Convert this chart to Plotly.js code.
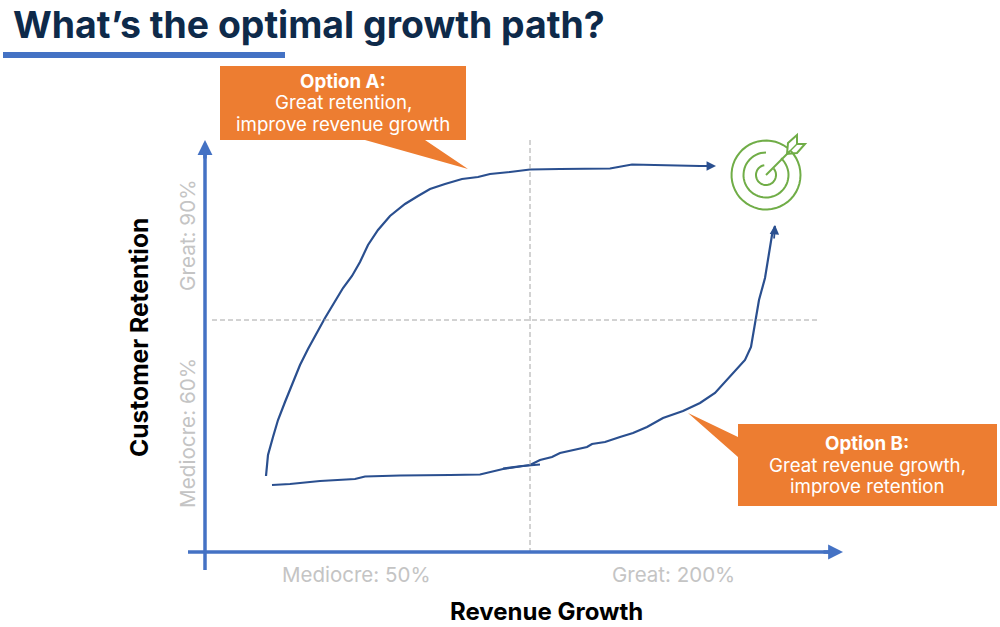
<!DOCTYPE html>
<html><head><meta charset="utf-8">
<script src="https://cdn.plot.ly/plotly-3.0.1.min.js"></script>
<style>html,body{margin:0;padding:0;background:#fff}#c{width:1000px;height:627px}</style>
</head><body><div id="c"></div>
<script>
const optionAx=[266,268,273,278,285,292,300,308,316,325,334,343,352,360,368,378,390,405,418,430,445,462,478,490,510,530,560,610,632,660,700];
const optionAy=[476,455,437,420,402,385,365,349,334,318,303,288,276,262,245,230,216,204,196,189,184,179,177,174,172,169.5,169,168.5,164.5,165,166];
const optionBx=[272,290,320,355,365,400,450,480,503,530,540,552,560,587,592,605,620,633,647,663,683,700,715,730,745,751,755,759,765,769,772,775];
const optionBy=[485,484,481,479,476.5,475.5,475,474.5,469,465,460,457,453,447,444,442,437,433,427,418,411,403,393,376,360,347,325,300,278,255,235,226];
const strokeX=[503,522,540], strokeY=[468.5,466,464.5];
const xTickLabels=["Mediocre: 50%","Great: 200%"];
const yTickLabels=["Mediocre: 60%","Great: 90%"];
const titleText="What’s the optimal growth path?";
const FONT="Inter, 'Open Sans', sans-serif";
const BLUE="#4472C4", ORANGE="#ED7D31", NAVY="#2A4F8F", GREY="#C4C4C4", GREEN="#70AD47", DASH="#A6A6A6";

function arc(cx,cy,r,a0,a1){
  let d="";
  for(let i=0;i<=48;i++){
    const a=(a0+(a1-a0)*i/48)*Math.PI/180;
    d+=(i?"L":"M")+(cx+r*Math.cos(a)).toFixed(1)+","+(cy+r*Math.sin(a)).toFixed(1);
  }
  return d;
}
const tcx=766,tcy=175;
const line=(x0,y0,x1,y1,color,width,dash)=>({type:"line",x0,y0,x1,y1,xref:"x",yref:"y",line:{color,width,dash:dash||"solid"}});
const path=(d,fill,lc,w)=>({type:"path",path:d,xref:"x",yref:"y",fillcolor:fill||"rgba(0,0,0,0)",line:{color:lc||"rgba(0,0,0,0)",width:w||0}});
const shapes=[
  line(3,55,285,55,BLUE,6),
  line(530,140,530,553,DASH,1,"5px,3px"),
  line(212,320,820,320,DASH,1,"5px,3px"),
  line(205,570,205,150,BLUE,3.5),
  line(188,552,834,552,BLUE,3.5),
  path("M220,66L466,66L466,140L425,140L468,169L365,140L220,140Z",ORANGE),
  path("M738,424L997,424L997,506L738,506L738,457L688,413L738,437Z",ORANGE),
  path(arc(tcx,tcy,34.5,-44,-38+360-14),null,GREEN,2),
  path(arc(tcx,tcy,22.5,-48,-48+318),null,GREEN,2),
  path(arc(tcx,tcy,10,-40,-40+300),null,GREEN,2),
  line(766,175,790,151,GREEN,2),
  path("M787,154L788,143L797,135L797,144L805,144L797,153L787,154Z",null,GREEN,2),
  line(788,153,797,144,GREEN,1.5)
];
const arrow=(x,y,ax,ay,color,w,s)=>({x,y,ax,ay,xref:"x",yref:"y",axref:"x",ayref:"y",text:"",showarrow:true,arrowhead:2,arrowsize:s,arrowwidth:w,arrowcolor:color});
const txt=(x,y,text,size,color,opt)=>Object.assign({x,y,xref:"x",yref:"y",text,showarrow:false,font:{family:FONT,size,color},xanchor:"center",yanchor:"middle"},opt||{});
const annotations=[
  arrow(205,140,205,160,BLUE,3.5,0.85),
  arrow(843,552,822,552,BLUE,3.5,0.85),
  arrow(716,166,698,166,NAVY,1.8,1.05),
  arrow(775,225,774,240,NAVY,1.8,1.05),
  txt(11,24,"<b>"+titleText+"</b>",37.4,"#0E2A4A",{xanchor:"left"}),
  txt(343,81,"<b>Option A:</b>",18.7,"#fff"),
  txt(343,102,"Great retention,",18.7,"#fff"),
  txt(343,124,"improve revenue growth",18.7,"#fff"),
  txt(867,443,"<b>Option B:</b>",18.7,"#fff"),
  txt(867,465,"Great revenue growth,",18.7,"#fff"),
  txt(867,486,"improve retention",18.7,"#fff"),
  txt(356,574,xTickLabels[0],20.5,GREY),
  txt(673,574,xTickLabels[1],20.5,GREY),
  txt(187,433,yTickLabels[0],20.7,GREY,{textangle:-90}),
  txt(187,235,yTickLabels[1],20.7,GREY,{textangle:-90}),
  txt(546,611,"<b>Revenue Growth</b>",24,"#000"),
  txt(139,338,"<b>Customer Retention</b>",24.6,"#000",{textangle:-90})
];
const trace=(x,y)=>({x,y,mode:"lines",type:"scatter",hoverinfo:"skip",line:{color:NAVY,width:2.2,shape:"linear"}});
Plotly.newPlot("c",[trace(optionAx,optionAy),trace(optionBx,optionBy),trace(strokeX,strokeY)],{
  width:1000,height:627,margin:{l:0,r:0,t:0,b:0},showlegend:false,
  paper_bgcolor:"#fff",plot_bgcolor:"#fff",
  xaxis:{range:[0,1000],visible:false,fixedrange:true},
  yaxis:{range:[627,0],visible:false,fixedrange:true},
  shapes,annotations
},{staticPlot:true,displayModeBar:false});
</script></body></html>
